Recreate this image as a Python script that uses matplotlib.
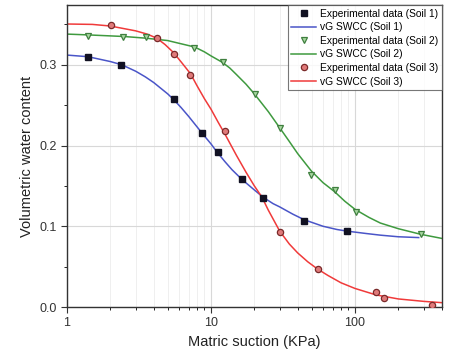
import matplotlib.pyplot as plt
from matplotlib.ticker import LogLocator, NullFormatter, MultipleLocator, FuncFormatter

s1_x = [1.39, 2.38, 5.5, 8.7, 11.1, 16.4, 23.1, 44.5, 88.5]
s1_y = [0.310, 0.300, 0.257, 0.215, 0.192, 0.158, 0.135, 0.107, 0.094]

s2_x = [1.40, 2.46, 3.54, 7.66, 12.05, 20.2, 30.0, 49.2, 72.2, 102, 287]
s2_y = [0.336, 0.335, 0.334, 0.321, 0.303, 0.264, 0.222, 0.164, 0.145, 0.118, 0.090]

s3_x = [2.02, 4.24, 5.53, 7.19, 12.6, 30.0, 55.6, 139, 158, 344]
s3_y = [0.349, 0.333, 0.313, 0.287, 0.218, 0.093, 0.047, 0.018, 0.011, 0.002]

# vG SWCC fitted curves
c1_x = [1, 1.4, 2, 2.4, 3, 3.5, 4, 5, 5.5, 6.2, 7, 8.7, 10, 11, 12.5, 14, 16.4, 20, 23, 27, 30,
        37, 44.5, 60, 75, 88, 120, 150, 200, 277]
c1_y = [0.312, 0.310, 0.304, 0.300, 0.292, 0.285, 0.278, 0.264, 0.257, 0.247, 0.236, 0.215,
        0.202, 0.192, 0.180, 0.170, 0.158, 0.145, 0.136, 0.128, 0.124, 0.115, 0.108, 0.100,
        0.096, 0.094, 0.091, 0.089, 0.087, 0.086]

c2_x = [1, 1.4, 2.5, 3.5, 5, 6.2, 7.7, 9, 10, 12, 13.5, 15, 17.5, 20, 25, 30, 35, 40, 50, 60,
        72, 85, 100, 125, 150, 200, 287, 400]
c2_y = [0.338, 0.337, 0.335, 0.333, 0.330, 0.326, 0.322, 0.316, 0.311, 0.303, 0.296, 0.288,
        0.276, 0.264, 0.242, 0.222, 0.205, 0.190, 0.168, 0.154, 0.143, 0.131, 0.121, 0.111,
        0.104, 0.097, 0.090, 0.085]

c3_x = [1, 1.5, 2, 3, 3.6, 4.2, 4.8, 5.5, 6.3, 7.2, 8, 9, 10, 11.2, 12.6, 15, 17.5, 20, 22.6,
        25, 30, 35, 40, 47, 55, 65, 80, 100, 140, 200, 300, 400]
c3_y = [0.3505, 0.350, 0.348, 0.342, 0.338, 0.333, 0.325, 0.315, 0.302, 0.289, 0.274, 0.258,
        0.245, 0.229, 0.213, 0.188, 0.167, 0.150, 0.136, 0.120, 0.094, 0.078, 0.067, 0.056,
        0.047, 0.039, 0.030, 0.023, 0.015, 0.010, 0.007, 0.0054]

plt.rcParams['font.family'] = ['Liberation Sans', 'DejaVu Sans']

fig = plt.figure(figsize=(4.51, 3.59), dpi=100)
ax = fig.add_axes([0.1486, 0.1448, 0.8314, 0.8412])

ax.plot(s1_x, s1_y, 's', color='#111122', ms=4, ls='none', label='Experimental data (Soil 1)', zorder=3)
ax.plot(c1_x, c1_y, '-', color='#4a55c8', lw=1.1, label='vG SWCC (Soil 1)', zorder=2)
ax.plot(s2_x, s2_y, 'v', mfc='#a8d8a0', mec='#3f7f3f', ms=5, mew=0.9, ls='none',
        label='Experimental data (Soil 2)', zorder=3)
ax.plot(c2_x, c2_y, '-', color='#3f9a3f', lw=1.1, label='vG SWCC (Soil 2)', zorder=2)
ax.plot(s3_x, s3_y, 'o', mfc='#e07a7a', mec='#7a2a2a', ms=4.5, mew=0.9, ls='none',
        label='Experimental data (Soil 3)', zorder=3)
ax.plot(c3_x, c3_y, '-', color='#f03a3a', lw=1.1, label='vG SWCC (Soil 3)', zorder=2)

ax.set_xscale('log')
ax.set_xlim(1, 402)
ax.set_ylim(0, 0.374)

ax.xaxis.set_major_locator(LogLocator(base=10))
ax.xaxis.set_minor_locator(LogLocator(base=10, subs=range(2, 10)))
ax.xaxis.set_minor_formatter(NullFormatter())
ax.xaxis.set_major_formatter(FuncFormatter(lambda v, p: '%g' % v))
ax.yaxis.set_major_locator(MultipleLocator(0.1))
ax.yaxis.set_minor_locator(MultipleLocator(0.05))
ax.yaxis.set_major_formatter(FuncFormatter(lambda v, p: '%.1f' % v))

ax.grid(which='major', color='#d8d8d8', lw=0.8)
ax.grid(which='minor', axis='x', color='#ececec', lw=0.6)
ax.set_axisbelow(True)

ax.tick_params(which='major', direction='out', length=4, width=0.8, labelsize=9, colors='#333333')
ax.tick_params(which='minor', direction='out', length=2.5, width=0.6)
for sp in ax.spines.values():
    sp.set_color('#333333')
    sp.set_linewidth(1.0)

ax.set_xlabel('Matric suction (KPa)', fontsize=10.5, color='#222222')
ax.set_ylabel('Volumetric water content', fontsize=10.5, color='#222222')

leg = ax.legend(loc='upper right', fontsize=7.4, frameon=True, fancybox=False,
                borderaxespad=0, handlelength=2.4, labelspacing=0.35, borderpad=0.35,
                handletextpad=0.4)
leg.get_frame().set_edgecolor('#555555')
leg.get_frame().set_linewidth(0.8)

fig.savefig('out.png', dpi=100)
